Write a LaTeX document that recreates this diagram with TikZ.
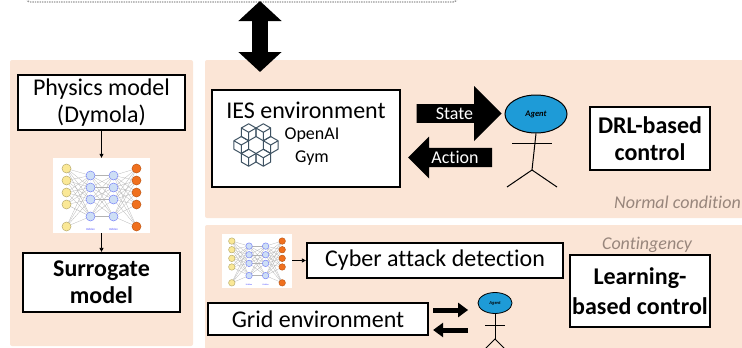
\documentclass[tikz,border=0pt]{standalone}
\usepackage{fontspec}
\setmainfont{Carlito}[Ligatures=NoCommon]
\usepackage{tikz}
\usetikzlibrary{arrows.meta}
\usetikzlibrary{shapes.arrows}
\usetikzlibrary{shapes.geometric}

\definecolor{peach}{RGB}{251,229,214}
\definecolor{agentblue}{RGB}{30,155,215}
\definecolor{notegray}{RGB}{152,134,124}
\definecolor{gymslate}{RGB}{62,82,98}
\definecolor{inyellow}{RGB}{250,232,150}
\definecolor{hidblue}{RGB}{205,222,245}
\definecolor{outorange}{RGB}{240,112,30}

\newcommand{\bigtext}{\fontsize{24}{27}\selectfont}
\newcommand{\midtext}{\fontsize{18}{23}\selectfont}

\tikzset{
  panel/.style={fill=peach, draw=none, rounded corners=2pt, inner sep=0pt},
  box/.style={draw, line width=2.2pt, fill=white, inner sep=0pt, font=\bigtext, align=center},
  note/.style={font=\midtext\itshape, text=notegray, inner sep=0pt},
  blockarrow/.style={single arrow, fill=black, text=white, font=\midtext, inner sep=1pt},
  stick/.style={line width=1pt},
  thinarrow/.style={line width=0.8pt, -{Triangle[length=4pt,width=4pt]}},
  fatarrow/.style={line width=5pt, -{Triangle[length=10pt,width=14pt]}},
  synapse/.style={line width=0.25pt, black!30},
  neuron/.style={circle, minimum size=9pt, inner sep=0pt, line width=0.5pt},
  nnet/.pic={
    \node[fill=white, minimum width=97pt, minimum height=75pt, inner sep=0pt] (-frame) {};
    \foreach \i/\y in {1/-27,2/-15,3/-3,4/9,5/31} {
      \coordinate (-a\i) at (-35,\y);
      \coordinate (-d\i) at (35,\y);
    }
    \foreach \i/\y in {1/-20,2/-8,3/4,4/21} {
      \coordinate (-b\i) at (-11,\y);
      \coordinate (-c\i) at (12,\y);
    }
    \foreach \i in {1,...,5} \foreach \j in {1,...,4} {
      \draw[synapse] (-a\i) -- (-b\j);
      \draw[synapse] (-c\j) -- (-d\i);
    }
    \foreach \i in {1,...,4} \foreach \j in {1,...,4}
      \draw[synapse] (-b\i) -- (-c\j);
    \foreach \i in {1,...,5} {
      \node[neuron, fill=inyellow, draw=inyellow!75!black] (-na\i) at (-a\i) {};
      \node[neuron, fill=outorange, draw=outorange!80!black] (-nd\i) at (-d\i) {};
    }
    \foreach \i in {1,...,4} {
      \node[neuron, fill=hidblue, draw=hidblue!60!blue] (-nb\i) at (-b\i) {};
      \node[neuron, fill=hidblue, draw=hidblue!60!blue] (-nc\i) at (-c\i) {};
    }
    \node[text=blue!70, font=\fontsize{3}{3}\selectfont, inner sep=0pt] (-h1) at (-11,34) {Hidden};
    \node[text=blue!70, font=\fontsize{3}{3}\selectfont, inner sep=0pt] (-h2) at (12,34) {Hidden};
  }
}

\begin{document}
\begin{tikzpicture}[x=1pt, y=-1pt]
\useasboundingbox (0,0) rectangle (742,348);

\draw[densely dotted, line width=1.4pt, black!40, rounded corners=3pt] (27,-6) -- (27,2) -- (456,2) -- (459,-6);

\node[panel, minimum width=183pt, minimum height=286pt] (left) at (101.5,203) {};
\node[panel, minimum width=540pt, minimum height=158pt] (normalpanel) at (475,139) {};
\node[panel, minimum width=540pt, minimum height=124pt] (contpanel) at (475,287) {};

\coordinate (cosim) at (260,1);
\coordinate (link) at (260,72);
\draw[line width=16pt, {Triangle[length=20pt,width=42pt]}-{Triangle[length=20pt,width=42pt]}] (cosim) -- (link);

% surrogate modelling column
\node[box, minimum width=167pt, minimum height=55pt] (phys) at (101.5,102.5) {Physics model\\(Dymola)};
\pic (nnA) at (101.5,195.5) {nnet};
\node[box, minimum width=157pt, minimum height=59pt, font=\bigtext\bfseries] (surrogate) at (101.5,282.5) {Surrogate\\model};
\draw[thinarrow] (phys) -- (nnA-frame);
\draw[thinarrow] (nnA-frame) -- (surrogate);

% DRL loop
\node[box, minimum width=188pt, minimum height=97pt] (ies) at (306,138.5) {};
\node[font=\bigtext, inner sep=0pt] (iestitle) at (306,110) {IES environment};
\node[font=\midtext, align=center, inner sep=0pt] (gym) at (312,147) {OpenAI\\Gym};
\begin{scope}[shift={(256,145)}, gymslate, line width=1pt, line join=round]
  \foreach \a in {0,60,...,300} {
    \begin{scope}[shift={(\a:14.7)}]
      \draw (30:8.5) -- (90:8.5) -- (150:8.5) -- (210:8.5) -- (270:8.5) -- (330:8.5) -- cycle;
      \draw (0,0) -- (90:8.5) (0,0) -- (210:8.5) (0,0) -- (330:8.5);
    \end{scope}
  }
\end{scope}

\node[blockarrow, minimum height=85pt, minimum width=55pt, single arrow head extend=14pt] (state) at (454.5,113.5) {State};
\node[blockarrow, minimum height=84pt, minimum width=42pt, single arrow head extend=9pt, shape border rotate=180] (action) at (455,157.5) {Action};

\node[ellipse, draw, line width=1pt, fill=agentblue, minimum width=62pt, minimum height=38pt, inner sep=0pt,
  font=\fontsize{8.5}{9}\selectfont\bfseries\itshape] (agent) at (536,114) {Agent};
\draw[stick] (agent.south) -- (532,170) coordinate (hip);
\draw[stick] (512,143) -- (552,143);
\draw[stick] (507,187) -- (hip) -- (557,187);

\node[box, minimum width=120pt, minimum height=63pt, font=\bigtext\bfseries] (drl) at (650,138.5) {DRL-based\\control};
\node[note, anchor=east] (normal) at (741,202) {Normal condition};

% contingency part
\pic[scale=0.72, transform shape] (nnB) at (257,260.5) {nnet};
\node[box, minimum width=256pt, minimum height=35pt] (cyber) at (435,260.5) {Cyber attack detection};
\draw[thinarrow] (nnB-frame) -- (cyber);

\node[box, minimum width=220pt, minimum height=32pt] (grid) at (318,319) {Grid environment};
\node[ellipse, draw, line width=0.8pt, fill=agentblue, minimum width=34pt, minimum height=21pt, inner sep=0pt,
  font=\fontsize{4.5}{5}\selectfont\bfseries\itshape] (agentB) at (495,303) {Agent};
\draw[stick] (agentB.south) -- (495,339) coordinate (hipB);
\draw[stick] (485,325) -- (505,325);
\draw[stick] (484,350) -- (hipB) -- (506,350);
\draw[fatarrow] ([shift={(4pt,9pt)}]grid.east) -- ++(35pt,0);
\draw[fatarrow] ([shift={(39pt,-11pt)}]grid.east) -- ++(-35pt,0);

\node[box, minimum width=140pt, minimum height=72pt, font=\fontsize{24}{30}\selectfont\bfseries] (learning) at (640,291) {Learning-\\based control};
\node[note] (contingency) at (647,245) {Contingency};

\end{tikzpicture}
\end{document}
